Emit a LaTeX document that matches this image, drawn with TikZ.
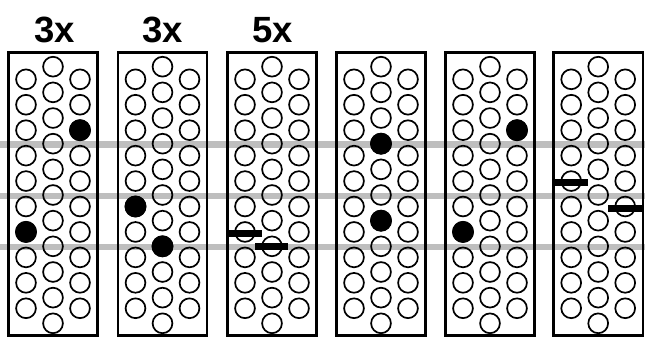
\documentclass[tikz,border=0pt]{standalone}
\usepackage{fontspec}
\setmainfont{Liberation Sans}
\definecolor{guidegray}{RGB}{190,190,190}
\begin{document}
\begin{tikzpicture}[x=1pt,y=-1pt,
  panelfill/.style={fill=white},
  panelline/.style={draw=black,line width=2.6pt},
  guide/.style={draw=guidegray,line width=6.2pt},
  hole/.style={draw=black,line width=1.7pt},
  filledhole/.style={draw=black,fill=black,line width=1.7pt},
  barmark/.style={fill=black},
  lbl/.style={font=\bfseries\fontsize{36.5}{36.5}\selectfont,inner sep=0pt,anchor=base}]
\useasboundingbox (0,0) rectangle (645,338);
\def\ptop{52.3}\def\pbot{335.5}\def\hw{44.6}
% panel backgrounds
\foreach \cx in {53,162.5,272,381,490,598.2}
  \fill[panelfill] (\cx-\hw,\ptop) rectangle (\cx+\hw,\pbot);
% guide lines
\foreach \gy [count=\g] in {144.5,196,247.3} {
  \coordinate (gl\g) at (0,\gy);
  \coordinate (gr\g) at (645,\gy);
  \draw[guide] (gl\g) -- (gr\g);
}
% panel outlines and holes
\foreach \cx [count=\p] in {53,162.5,272,381,490,598.2} {
  \draw[panelline] (\cx-\hw,\ptop) rectangle (\cx+\hw,\pbot);
  \foreach \k in {0,...,10}
    \draw[hole] (\cx,66.7+25.66*\k) circle (9.9);
  \foreach \k in {0,...,9} {
    \draw[hole] (\cx-27,79.3+25.44*\k) circle (9.9);
    \draw[hole] (\cx+27,79.3+25.44*\k) circle (9.9);
  }
}
% filled holes (x, y)
\foreach \fx/\fy in {
  80/130.2, 26/231.9,
  135.5/206.5, 162.5/246.3,
  381/143.7, 381/220.7,
  517/130.2, 463/231.9}
  \draw[filledhole] (\fx,\fy) circle (10.1);
% bar marks
\foreach \bx/\by in {245/233.3, 271.5/246.7, 571/182.7, 625/208.3}
  \fill[barmark] (\bx-16.8,\by-3.4) rectangle (\bx+16.8,\by+3.4);
% labels
\node[lbl] (lab1) at (55,42.3) {3x};
\node[lbl] (lab2) at (163,42.3) {3x};
\node[lbl] (lab3) at (272.5,42.3) {5x};
\end{tikzpicture}
\end{document}
